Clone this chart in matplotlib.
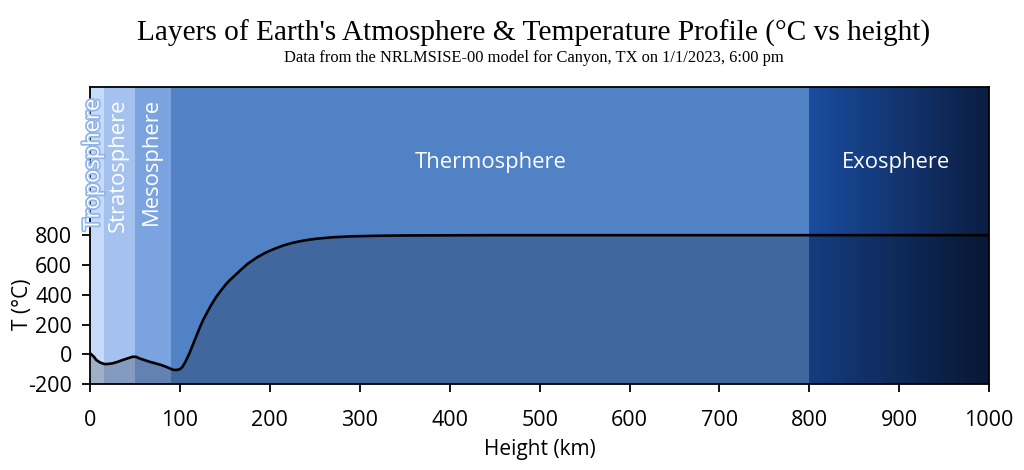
import matplotlib
matplotlib.use("Agg")
import matplotlib.pyplot as plt
import matplotlib.patheffects as pe
from matplotlib.colors import LinearSegmentedColormap
import numpy as np

# temperature profile (km, deg C)
height_km = [0, 4, 7, 11, 16, 20, 25, 30, 36, 42, 47, 51, 55, 60, 66, 72, 79, 86,
             92, 96, 100, 103, 106, 110, 114, 118, 122, 126, 130, 135, 140, 145,
             150, 155, 160, 167, 175, 185, 195, 205, 215, 225, 235, 245, 255,
             270, 290, 320, 350, 400, 450, 550, 700, 850, 1000]
temp_c = [6, -15, -39, -55, -66, -65, -61, -52, -39, -27, -17, -17, -28, -38, -50,
          -60, -72, -88, -104, -106, -100, -82, -50, 0, 60, 120, 180, 235, 280,
          335, 384, 425, 464, 497, 525, 565, 608, 650, 684, 710, 733, 750, 763,
          773, 780, 788, 794, 798, 800, 801, 802, 802, 802, 802, 802]

layer_names = ["Troposphere", "Stratosphere", "Mesosphere", "Thermosphere", "Exosphere"]
layer_bounds = [0, 15, 50, 90, 800, 1000]
layer_colors = ["#c6dbf9", "#a5c2ef", "#7ba3e0", "#5282c6", None]
exo_colors = ["#1a4d9f", "#0b1d42"]

plt.rcParams['font.family'] = ['Open Sans', 'DejaVu Sans']
plt.rcParams['axes.unicode_minus'] = False

fig = plt.figure(figsize=(10.24, 4.7), dpi=100)
ax = fig.add_axes([0.088, 0.183, 0.878, 0.632])
ymin, ymax = -200, 1800

for i in range(4):
    ax.axvspan(layer_bounds[i], layer_bounds[i + 1], color=layer_colors[i], lw=0, zorder=0)

cmap = LinearSegmentedColormap.from_list("exo", exo_colors)
grad = np.linspace(0, 1, 256).reshape(1, -1)
ax.imshow(grad, cmap=cmap, aspect='auto', extent=[layer_bounds[4], layer_bounds[5], ymin, ymax],
          zorder=0)

ax.fill_between(height_km, ymin, temp_c, color='black', alpha=0.2, lw=0, zorder=1)
ax.plot(height_km, temp_c, color='black', lw=1.9, zorder=3)

ax.set_xlim(0, 1000)
ax.set_ylim(ymin, ymax)
ax.set_xticks(range(0, 1001, 100))
ax.set_yticks(range(-200, 801, 200))
ax.tick_params(labelsize=15.5, length=6, width=1.3, direction='out')
ax.tick_params(axis='x', pad=12.5)
ax.tick_params(axis='y', pad=7)
for s in ax.spines.values():
    s.set_linewidth(1.3)
    s.set_zorder(4)

ax.set_xlabel("Height (km)", fontsize=15, labelpad=6)
ax.set_ylabel("T (°C)", fontsize=15, labelpad=2)
ax.yaxis.set_label_coords(-0.064, 0.27)

# layer labels
txt = dict(color='white', fontsize=15.8, zorder=5)
ax.text(3.5, 1725, layer_names[0], rotation=90, ha='center', va='top',
        path_effects=[pe.withStroke(linewidth=2.5, foreground='#8fb4ea')], **txt)
ax.text(31, 1725, layer_names[1], rotation=90, ha='center', va='top', **txt)
ax.text(68.5, 1725, layer_names[2], rotation=90, ha='center', va='top', **txt)
ax.text(445, 1290, layer_names[3], ha='center', va='center', **txt)
ax.text(896, 1290, layer_names[4], ha='center', va='center', **txt)

fig.text(0.521, 0.928, "Layers of Earth's Atmosphere & Temperature Profile (°C vs height)",
         ha='center', va='center', fontsize=21.2, family=['Liberation Serif', 'DejaVu Serif'])
fig.text(0.521, 0.877, "Data from the NRLMSISE-00 model for Canyon, TX on 1/1/2023, 6:00 pm",
         ha='center', va='center', fontsize=11.9, family=['Liberation Serif', 'DejaVu Serif'])

fig.savefig("out.png", dpi=100)
